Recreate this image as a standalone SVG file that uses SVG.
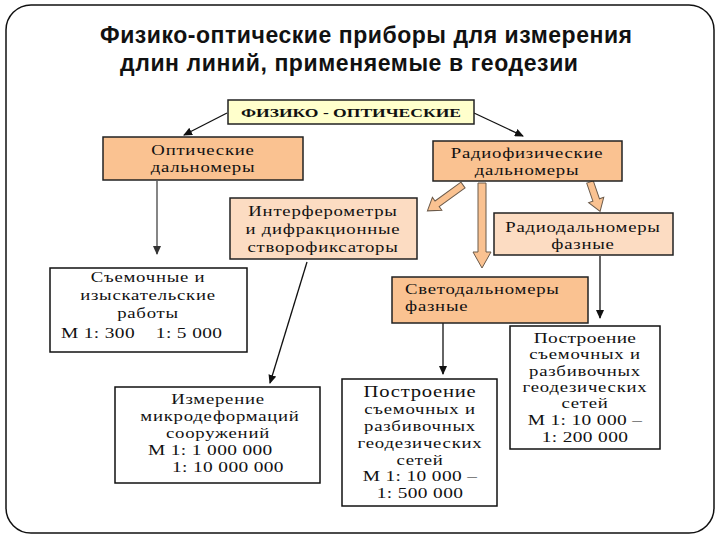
<svg xmlns="http://www.w3.org/2000/svg" width="720" height="540" viewBox="0 0 720 540">
<defs>
<marker id="ah" markerWidth="9" markerHeight="8" refX="8" refY="4" orient="auto" markerUnits="userSpaceOnUse">
<path d="M0,0 L9,4 L0,8 Z" fill="#111"/>
</marker>
<marker id="ahg" markerWidth="9" markerHeight="8" refX="8" refY="4" orient="auto" markerUnits="userSpaceOnUse">
<path d="M0,0 L9,4 L0,8 Z" fill="#333"/>
</marker>
<style>
.frame{fill:#fff;stroke:#111;stroke-width:1.5}
.peach{fill:#fac291;stroke:#222;stroke-width:1.5}
.light{fill:#fcdcc2;stroke:#222;stroke-width:1.5}
.yel{fill:#ffffcc;stroke:#222;stroke-width:1.5}
.wbox{fill:#fff;stroke:#111;stroke-width:1.5}
.t{font-family:"Liberation Serif","Times New Roman",serif;font-size:15px;letter-spacing:0.6px;fill:#111;text-anchor:middle}
.tl{text-anchor:start}
.big{font-size:15.5px;letter-spacing:0.3px}
.title{font-family:"Liberation Sans",Arial,sans-serif;font-weight:bold;font-size:23px;fill:#111}
.hdr{font-family:"Liberation Serif","Times New Roman",serif;font-weight:bold;font-size:13.5px;fill:#111}
.ln{stroke:#111;stroke-width:1.3;fill:none;marker-end:url(#ah)}
.lng{stroke:#444;stroke-width:1.3;fill:none;marker-end:url(#ahg)}
.blk{fill:#fac291;stroke:#6b5a4a;stroke-width:1}
</style>
</defs>
<rect class="frame" x="6" y="5" width="708" height="528" rx="25" ry="25"/>
<g id="title">
<text class="title" x="100" y="43" textLength="532" lengthAdjust="spacing">Физико-оптические приборы для измерения</text>
<text class="title" x="120" y="71" textLength="458" lengthAdjust="spacing">длин линий, применяемые в геодезии</text>
</g>
<g id="connectors">
<line class="ln" x1="227" y1="113" x2="184" y2="135"/>
<line class="ln" x1="474" y1="113" x2="523" y2="136"/>
<line class="lng" x1="157" y1="181" x2="157" y2="254"/>
<line class="ln" x1="307" y1="262" x2="270" y2="383"/>
<line class="ln" x1="600" y1="256" x2="600" y2="318"/>
<line class="ln" x1="443" y1="323" x2="443" y2="374"/>
<polygon class="blk" transform="translate(463,185) rotate(54)" points="-3.5,0 3.5,0 3.5,32 8,32 0,44 -8,32 -3.5,32"/>
<polygon class="blk" points="478,183 486,183 486,252 491,252 482,268 473,252 478,252"/>
<polygon class="blk" transform="translate(590,182) rotate(-19)" points="-3.5,0 3.5,0 3.5,19 8,19 0,31 -8,19 -3.5,19"/>
</g>
<g id="n-root">
<rect class="yel" x="228" y="100" width="246" height="24"/>
<text class="hdr" x="241" y="116.5" textLength="220" lengthAdjust="spacingAndGlyphs">ФИЗИКО - ОПТИЧЕСКИЕ</text>
</g>
<g id="n-optical">
<rect class="peach" x="103" y="137" width="200" height="43"/>
<g transform="matrix(1.25 0 0 1 -50.75 0)">
<text class="t" x="203" y="155">Оптические</text>
<text class="t" x="203" y="172">дальномеры</text>
</g>
</g>
<g id="n-radiophys">
<rect class="peach" x="433" y="141" width="189" height="40"/>
<g transform="matrix(1.25 0 0 1 -131.75 0)">
<text class="t" x="527" y="158">Радиофизические</text>
<text class="t" x="527" y="175">дальномеры</text>
</g>
</g>
<g id="n-interf">
<rect class="light" x="230" y="198" width="187" height="61"/>
<g transform="matrix(1.25 0 0 1 -80.75 0)">
<text class="t" x="323" y="216">Интерферометры</text>
<text class="t" x="323" y="234">и дифракционные</text>
<text class="t" x="323" y="252">створофиксаторы</text>
</g>
</g>
<g id="n-radiophase">
<rect class="light" x="494" y="213" width="179" height="42"/>
<g transform="matrix(1.25 0 0 1 -145.75 0)">
<text class="t" x="583" y="232">Радиодальномеры</text>
<text class="t" x="583" y="249">фазные</text>
</g>
</g>
<g id="n-light">
<rect class="peach" x="392" y="277" width="196" height="46"/>
<g transform="matrix(1.25 0 0 1 -101.25 0)">
<text class="t tl" x="405" y="294">Светодальномеры</text>
<text class="t tl" x="405" y="311">фазные</text>
</g>
</g>
<g id="n-survey">
<rect class="wbox" x="50" y="268" width="197" height="84"/>
<g transform="matrix(1.25 0 0 1 -37 0)">
<text class="t" x="148" y="282">Съемочные и</text>
<text class="t" x="148" y="300">изыскательские</text>
<text class="t" x="148" y="318">работы</text>
<text class="t tl big" x="78.4" y="338" xml:space="preserve">М 1: 300    1: 5 000</text>
</g>
</g>
<g id="n-micro">
<rect class="wbox" x="115" y="387" width="205" height="96"/>
<g transform="matrix(1.25 0 0 1 -54.5 0)">
<text class="t" x="218" y="404">Измерение</text>
<text class="t" x="219.6" y="421">микродеформаций</text>
<text class="t" x="218" y="438">сооружений</text>
<text class="t tl big" x="162" y="455">М 1: 1 000 000</text>
<text class="t tl big" x="181.2" y="472">1: 10 000 000</text>
</g>
</g>
<g id="n-build-mid">
<rect class="wbox" x="342" y="379" width="155" height="127"/>
<g transform="matrix(1.25 0 0 1 -105 0)">
<text class="t" x="420" y="397" style="font-size:16.5px">Построение</text>
<text class="t" x="420" y="414">съемочных и</text>
<text class="t" x="420" y="431">разбивочных</text>
<text class="t" x="420" y="448">геодезических</text>
<text class="t" x="420" y="465">сетей</text>
<text class="t big" x="420" y="481">М 1: 10 000 –</text>
<text class="t big" x="420" y="498">1: 500 000</text>
</g>
</g>
<g id="n-build-right">
<rect class="wbox" x="510" y="326" width="150" height="123"/>
<g transform="matrix(1.25 0 0 1 -146.25 0)">
<text class="t big" x="585" y="343">Построение</text>
<text class="t" x="585" y="359">съемочных и</text>
<text class="t" x="585" y="376">разбивочных</text>
<text class="t" x="585" y="392">геодезических</text>
<text class="t" x="585" y="408">сетей</text>
<text class="t big" x="585" y="425">М 1: 10 000 –</text>
<text class="t big" x="585" y="442">1: 200 000</text>
</g>
</g>
</svg>
